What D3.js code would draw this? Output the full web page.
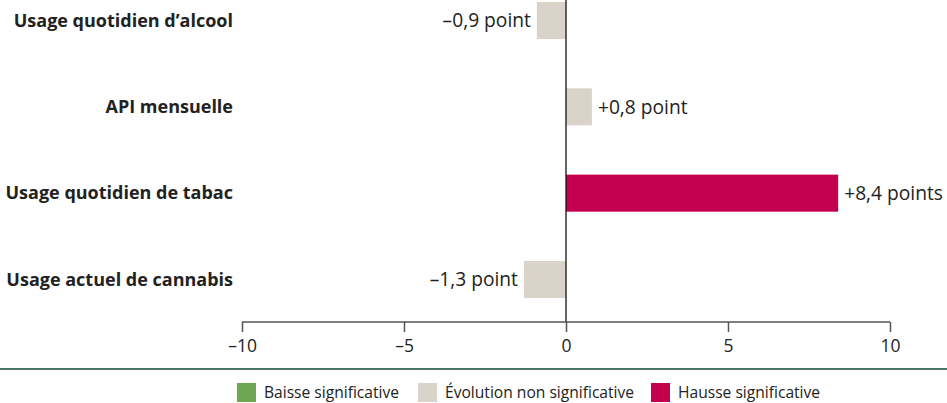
<!DOCTYPE html>
<html><head><meta charset="utf-8">
<script src="https://cdn.jsdelivr.net/npm/d3@7"></script>
<style>body{margin:0;background:#fff}svg{display:block}text{font-family:"Open Sans",sans-serif;fill:#222}</style>
</head><body><svg id="c" width="947" height="403"></svg>
<script>
const categories = ["Usage quotidien d\u2019alcool","API mensuelle","Usage quotidien de tabac","Usage actuel de cannabis"];
const values = [-0.9, 0.8, 8.4, -1.3];
const valueLabels = ["\u20130,9 point","+0,8 point","+8,4 points","\u20131,3 point"];
const status = ["ns","ns","up","ns"];
const ticks = [-10,-5,0,5,10];
const tickLabels = ["\u201310","\u20135","0","5","10"];
const legendKeys = ["down","ns","up"];
const legendLabels = ["Baisse significative","\u00c9volution non significative","Hausse significative"];
const colors = {down:"#6ea652", ns:"#dad3ca", up:"#c3014f"};

const svg = d3.select("#c");
const x = d3.scaleLinear().domain([-10,10]).range([242,890]);
const y = d3.scaleBand().domain(categories).range([2,298]).paddingInner(0.571).paddingOuter(0);
const axisY = 322;

svg.selectAll("rect.bar").data(values).join("rect").attr("class","bar")
  .attr("x",d=>x(Math.min(0,d))).attr("width",d=>Math.abs(x(d)-x(0)))
  .attr("y",(d,i)=>y(categories[i])).attr("height",y.bandwidth())
  .attr("fill",(d,i)=>colors[status[i]]);

svg.append("line").attr("x1",x(0)).attr("x2",x(0)).attr("y1",0).attr("y2",axisY).attr("stroke","#111").attr("stroke-width",1.3);

svg.selectAll("text.cat").data(categories).join("text").attr("class","cat")
  .attr("x",233).attr("y",d=>y(d)+y.bandwidth()/2).attr("dy","0.35em")
  .attr("text-anchor","end").attr("font-weight","bold").attr("font-size",18).text(d=>d);

svg.selectAll("text.val").data(values).join("text").attr("class","val")
  .attr("x",d=>d<0?x(d)-6:x(d)+6).attr("y",(d,i)=>y(categories[i])+y.bandwidth()/2).attr("dy","0.35em")
  .attr("text-anchor",d=>d<0?"end":"start").attr("font-size",19.2).text((d,i)=>valueLabels[i]);

const ax = svg.append("g").attr("transform",`translate(0,${axisY})`)
  .call(d3.axisBottom(x).tickValues(ticks).tickSize(10).tickPadding(8).tickFormat((d,i)=>tickLabels[i]));
ax.select(".domain").attr("stroke","#555").attr("stroke-width",1.5).attr("d",`M${x(-10)},0H${x(10)}`);
ax.selectAll(".tick line").attr("stroke","#555").attr("stroke-width",1.5);
ax.selectAll(".tick text").attr("font-size",17.5).attr("fill","#222").attr("font-family","\"Open Sans\",sans-serif");

svg.append("line").attr("x1",0).attr("x2",947).attr("y1",369).attr("y2",369).attr("stroke","#4b7566").attr("stroke-width",2);

const lx = [237,418,651];
const lg = svg.selectAll("g.leg").data(legendKeys).join("g").attr("class","leg")
  .attr("transform",(d,i)=>`translate(${lx[i]},383)`);
lg.append("rect").attr("width",19).attr("height",19).attr("fill",d=>colors[d]);
lg.append("text").attr("x",27).attr("y",9.5).attr("dy","0.35em").attr("font-size",15.6).text((d,i)=>legendLabels[i]);
</script></body></html>
